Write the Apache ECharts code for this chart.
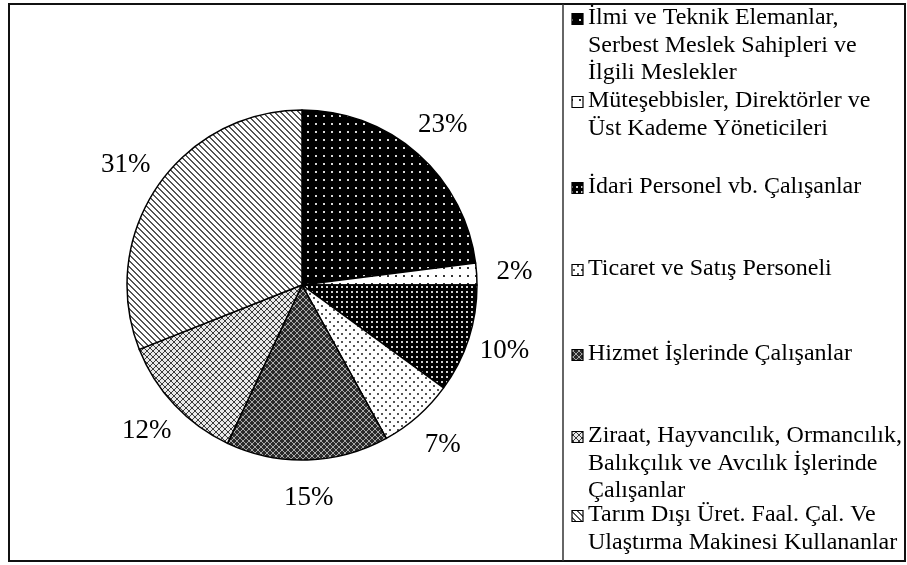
<!DOCTYPE html>
<html><head><meta charset="utf-8">
<script src="https://cdn.jsdelivr.net/npm/echarts@6/dist/echarts.min.js"></script>
<style>html,body{margin:0;padding:0;background:#fff}#c{width:907px;height:565px}</style>
</head><body><div id="c"></div>
<script>
const categories = [
  'İlmi ve Teknik Elemanlar,\nSerbest Meslek Sahipleri ve\nİlgili Meslekler',
  'Müteşebbisler, Direktörler ve\nÜst Kademe Yöneticileri',
  'İdari Personel vb. Çalışanlar',
  'Ticaret ve Satış Personeli',
  'Hizmet İşlerinde Çalışanlar',
  'Ziraat, Hayvancılık, Ormancılık,\nBalıkçılık ve Avcılık İşlerinde\nÇalışanlar',
  'Tarım Dışı Üret. Faal. Çal. Ve\nUlaştırma Makinesi Kullananlar'
];
const values = [23, 2, 10, 7, 15, 12, 31];

function tile(size, bg, draw) {
  const c = document.createElement('canvas');
  c.width = size; c.height = size;
  const g = c.getContext('2d');
  g.fillStyle = bg; g.fillRect(0, 0, size, size);
  draw(g, size);
  return { image: c, repeat: 'repeat' };
}
const patterns = [
  tile(8, '#000', g => { g.fillStyle = '#d8d8d8'; g.fillRect(3, 3, 2, 2); }),
  tile(8, '#fff', g => { g.fillStyle = '#333'; g.fillRect(3, 3, 2, 2); }),
  tile(10, '#000', g => { g.fillStyle = '#cfcfcf'; g.fillRect(1, 1, 2, 2); g.fillRect(6, 6, 2, 2); g.fillRect(6, 1, 2, 2); g.fillRect(1, 6, 2, 2); }),
  tile(8, '#fff', g => { g.fillStyle = '#555'; g.fillRect(1, 1, 2, 2); g.fillRect(5, 5, 2, 2); }),
  tile(6, '#2a2a2a', g => { g.fillStyle = '#a8a8a8'; for (let i = 0; i < 6; i++) { g.fillRect(i, i, 1, 1); g.fillRect(5 - i, i, 1, 1); } }),
  tile(6, '#e8e8e8', g => { g.fillStyle = '#3a3a3a'; for (let i = 0; i < 6; i++) { g.fillRect(i, i, 1, 1); g.fillRect(5 - i, i, 1, 1); } }),
  tile(6, '#fff', g => { g.fillStyle = '#555'; for (let i = 0; i < 6; i++) { g.fillRect(i, i, 1, 1); g.fillRect((i + 1) % 6, i, 1, 1); } })
];

const chart = echarts.init(document.getElementById('c'));
const cx = 302, cy = 285, R = 175;
const legendTop = [19, 102, 188, 270, 355, 437, 516];

const graphics = [
  { type: 'rect', shape: { x: 9, y: 4, width: 896, height: 557 }, style: { fill: 'none', stroke: '#111', lineWidth: 2 } },
  { type: 'line', shape: { x1: 563, y1: 4, x2: 563, y2: 561 }, style: { stroke: '#333', lineWidth: 1.5 } }
];
categories.forEach((name, i) => {
  graphics.push({ type: 'rect', shape: { x: 572, y: legendTop[i] - 5.5, width: 11, height: 11 },
    style: { fill: patterns[i], stroke: '#000', lineWidth: 1.2 } });
  graphics.push({ type: 'text', x: 588, y: legendTop[i] - 15,
    style: { text: name, font: '24px "Liberation Serif"', fill: '#000', lineHeight: 27.5, textVerticalAlign: 'top' } });
});

chart.setOption({
  animation: false,
  graphic: graphics,
  series: [
    {
      type: 'pie', center: [cx, cy], radius: [0, R], startAngle: 90, clockwise: true,
      silent: true, label: { show: false }, labelLine: { show: false },
      itemStyle: { borderColor: '#000', borderWidth: 1.5 },
      data: values.map((v, i) => ({ value: v, name: categories[i], itemStyle: { color: patterns[i] } }))
    },
    {
      type: 'pie', center: [cx, cy], radius: [0, 420], startAngle: 90, clockwise: true,
      silent: true, z: 1,
      itemStyle: { color: 'rgba(0,0,0,0)', borderWidth: 0 },
      label: { show: true, position: 'inside', formatter: '{c}%', color: '#000',
        fontFamily: 'Liberation Serif', fontSize: 27 },
      labelLine: { show: false },
      data: values.map((v, i) => ({ value: v, name: categories[i] }))
    }
  ]
});
</script></body></html>
